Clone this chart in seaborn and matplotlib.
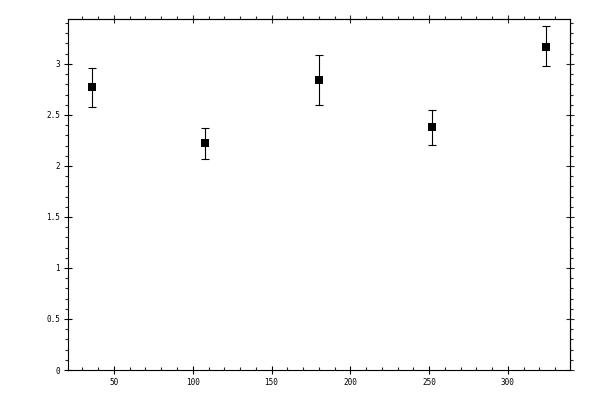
import numpy as np
import pandas as pd
import seaborn as sns
import matplotlib
matplotlib.use("Agg")
import matplotlib.pyplot as plt
from matplotlib.ticker import MultipleLocator

# values
x_vals = [36, 108, 180, 252, 324]
y_vals = [2.77, 2.22, 2.84, 2.38, 3.17]
err_lo = [2.58, 2.07, 2.60, 2.21, 2.98]
err_hi = [2.96, 2.37, 3.09, 2.55, 3.37]
x_ticks = [50, 100, 150, 200, 250, 300]
y_ticks = [0, 0.5, 1, 1.5, 2, 2.5, 3]

df = pd.DataFrame({"x": x_vals, "y": y_vals})
yerr = np.array([np.array(y_vals) - np.array(err_lo),
                 np.array(err_hi) - np.array(y_vals)])

sns.set_style("ticks")
plt.rcParams["font.family"] = ["DejaVu Sans Mono"]

fig = plt.figure(figsize=(6, 4), dpi=100)
ax = fig.add_axes([68 / 600, 1 - 370 / 400, 502 / 600, 351 / 400])

ax.errorbar(x_vals, y_vals, yerr=yerr, fmt="none", ecolor="black",
            elinewidth=0.8, capsize=2.6, capthick=0.8)
sns.scatterplot(data=df, x="x", y="y", marker="s", s=30, color="black",
                edgecolor="black", linewidth=0, ax=ax, zorder=3)

ax.set_xlim(20.8, 339.5)
ax.set_ylim(0, 3.44)
ax.set_xticks(x_ticks)
ax.set_yticks(y_ticks)
ax.set_yticklabels([f"{t:g}" for t in y_ticks])
ax.xaxis.set_minor_locator(MultipleLocator(10))
ax.yaxis.set_minor_locator(MultipleLocator(0.1))
ax.set_xlabel("")
ax.set_ylabel("")

for s in ax.spines.values():
    s.set_linewidth(0.8)
    s.set_color("black")

ax.tick_params(which="major", direction="inout", length=5.5, width=0.8,
               labelsize=5.5, pad=3, colors="black")
ax.tick_params(axis="x", which="minor", direction="in", length=2.3, width=0.8)
ax.tick_params(axis="y", which="minor", direction="out", length=2.3, width=0.8)

# top and right ticks (no labels)
top = ax.secondary_xaxis("top")
top.set_xticks(x_ticks)
top.xaxis.set_minor_locator(MultipleLocator(10))
top.tick_params(which="major", direction="inout", length=5.5, width=0.8, labeltop=False)
top.tick_params(which="minor", direction="out", length=2.3, width=0.8)
top.spines["top"].set_linewidth(0.8)

right = ax.secondary_yaxis("right")
right.set_yticks(y_ticks)
right.yaxis.set_minor_locator(MultipleLocator(0.1))
right.tick_params(which="major", direction="inout", length=5.5, width=0.8, labelright=False)
right.tick_params(which="minor", direction="out", length=2.3, width=0.8)
right.spines["right"].set_linewidth(0.8)

fig.savefig("out.png", dpi=100)
